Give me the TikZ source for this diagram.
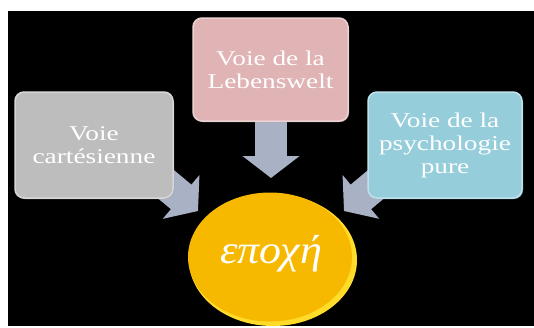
\documentclass[tikz,border=0pt]{standalone}
\usepackage{fontspec}
\setmainfont{Liberation Serif}[FakeStretch=1.3]
\newfontfamily\greekfont{Liberation Serif}[FakeStretch=1.1]
\usetikzlibrary{shapes.geometric,arrows.meta}
\definecolor{boxgray}{HTML}{BDBDBD}
\definecolor{boxpink}{HTML}{E0B3B4}
\definecolor{boxblue}{HTML}{95CDDA}
\definecolor{circyellow}{HTML}{F6B900}
\definecolor{rimyellow}{HTML}{FFDC2A}
\definecolor{arrowgray}{HTML}{A9B1C4}
\tikzset{
  box/.style={rectangle, rounded corners=9pt, draw=#1!60!white, line width=1.5pt,
    fill=#1, text=white, align=center, inner sep=2pt,
    font=\fontsize{21}{23}\selectfont},
  blockarrow/.style={draw=arrowgray, line width=32pt,
    -{Triangle[length=22pt,width=56pt,fill=arrowgray]}}
}
\begin{document}
\begin{tikzpicture}[x=1pt,y=-1pt]
\useasboundingbox (0,0) rectangle (534,327);
\fill[white] (0,0) rectangle (534,327);
\fill[black] (8,11) rectangle (534,326);
% tip coordinates
\coordinate (tipT) at (271,178);
\coordinate (tipL) at (198,211);
\coordinate (tipR) at (344,211);
\coordinate (startL) at (125,150);
\coordinate (startR) at (417,150);
\coordinate (startT) at (271,100);
% arrows
\draw[blockarrow] (startT) -- (tipT);
\draw[blockarrow] (startL) -- (tipL);
\draw[blockarrow] (startR) -- (tipR);
% boxes
\fill[boxgray!85!black, rounded corners=9pt] (16,94) rectangle (174,199);
\node[box=boxgray, minimum width=158pt, minimum height=106pt] (L) at (94,145) {Voie\\cartésienne};
\fill[boxpink!85!black, rounded corners=9pt] (194,20) rectangle (349,122);
\node[box=boxpink, minimum width=155pt, minimum height=103pt] (T) at (270.5,69.5) {Voie de la\\Lebenswelt};
\fill[boxblue!85!black, rounded corners=9pt] (369,94) rectangle (523,199);
\node[box=boxblue, minimum width=154pt, minimum height=106pt] (R) at (445,145) {Voie de la\\psychologie\\pure};
% circle
\fill[rimyellow] (273,260) ellipse [x radius=84, y radius=66];
\node[ellipse, fill=circyellow, minimum width=164pt, minimum height=129pt, inner sep=0pt] (E) at (270,257) {};
\node[text=white, anchor=base, font=\greekfont\itshape\fontsize{40}{42}\selectfont] (Etext) at (271,263) {εποχή};
\end{tikzpicture}
\end{document}
